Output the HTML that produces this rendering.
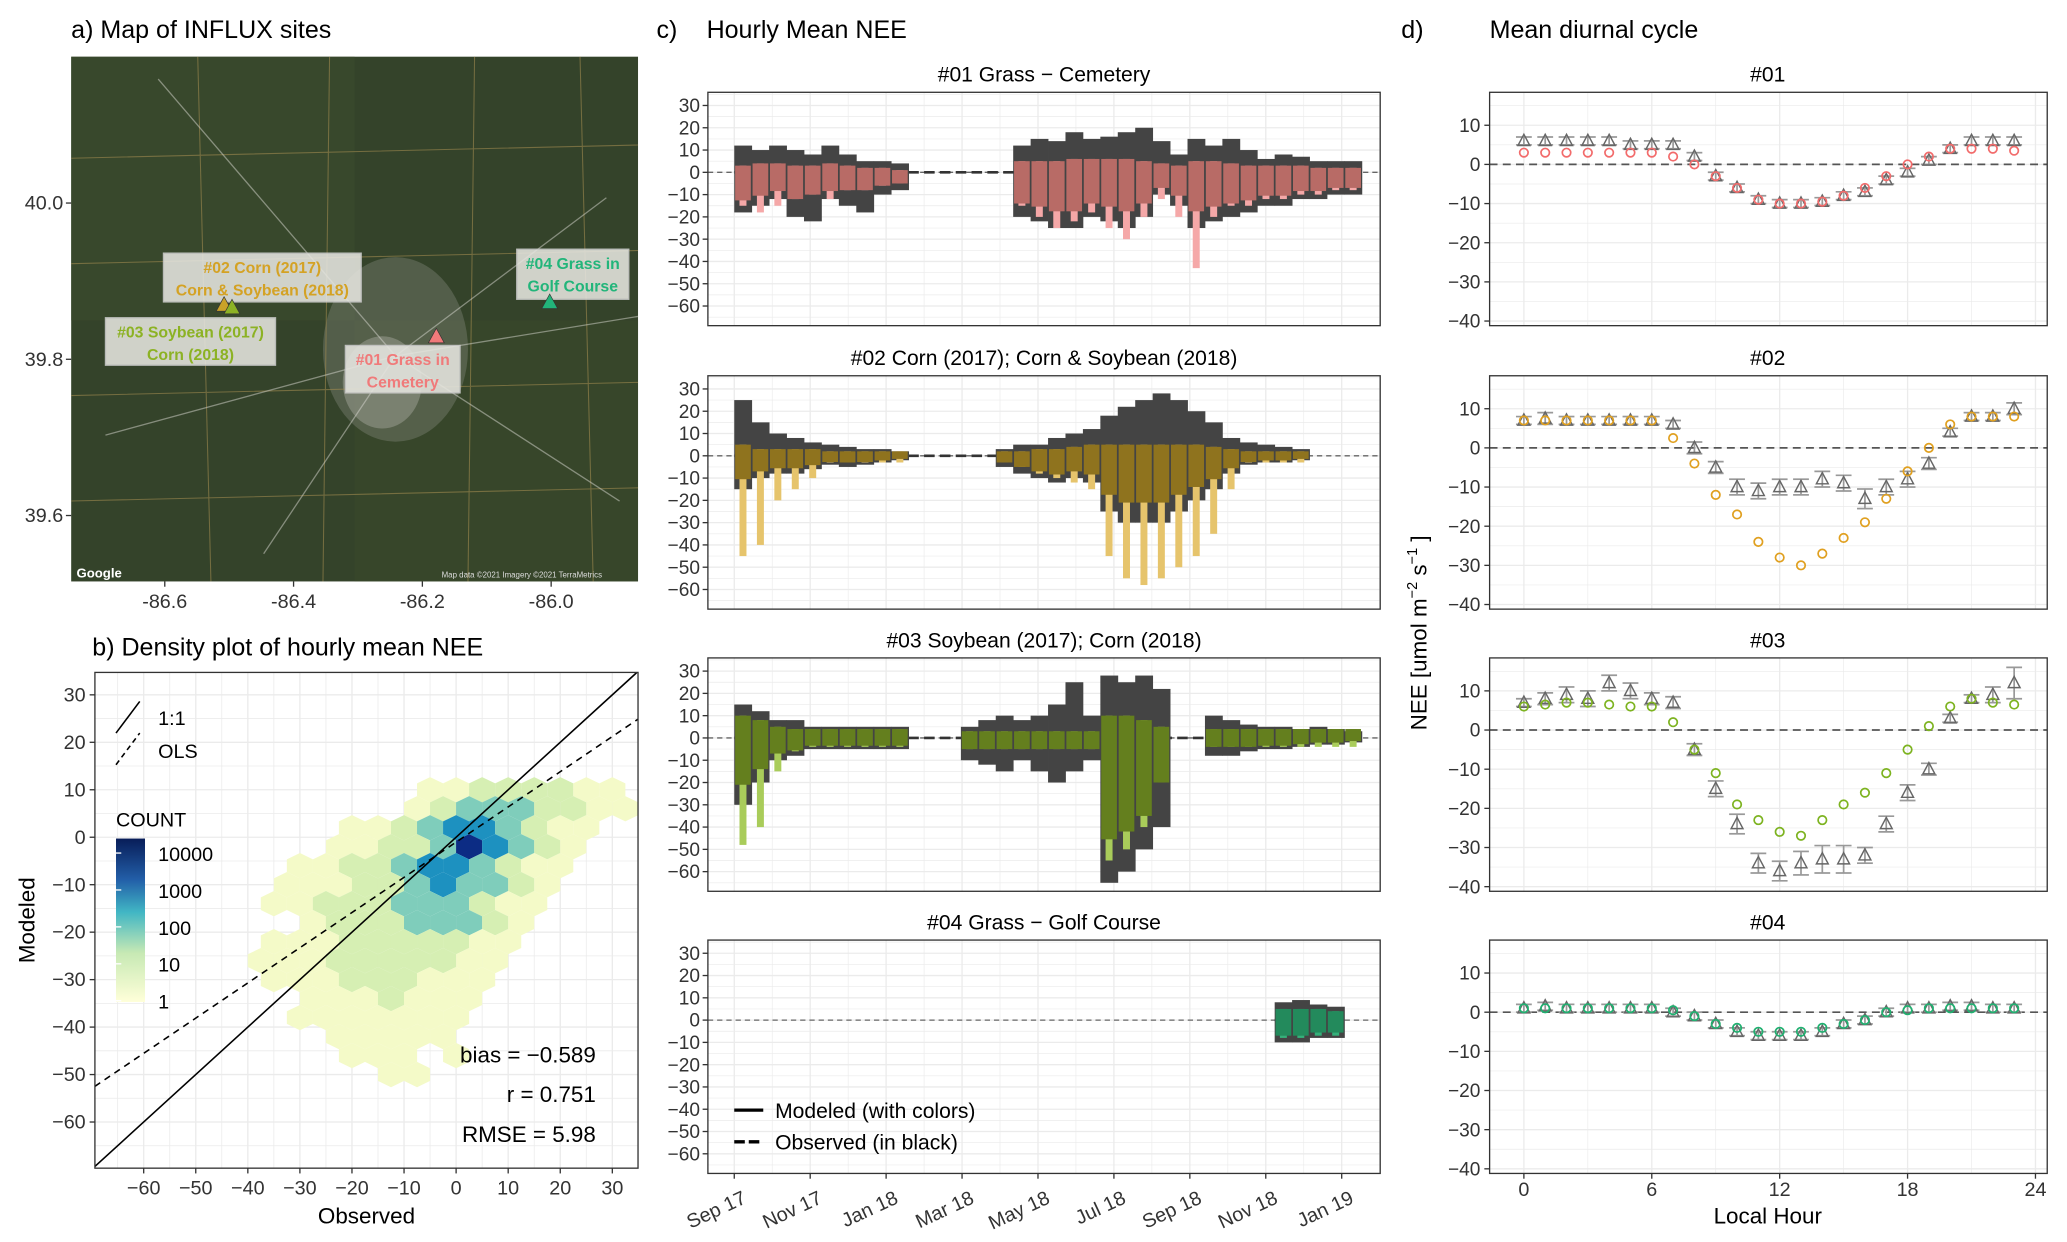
<!DOCTYPE html>
<html><head><meta charset="utf-8"><style>
html,body{margin:0;padding:0;background:#fff}
svg{display:block;font-family:"Liberation Sans",Arial,sans-serif}
</style></head><body>
<svg id="fig" width="2067" height="1242" viewBox="0 0 1568 942" preserveAspectRatio="none" xmlns="http://www.w3.org/2000/svg">
<rect width="1568" height="942" fill="#fff"/>
<text x="54" y="29" font-size="19">a) Map of INFLUX sites</text>
<text x="70" y="497" font-size="19">b) Density plot of hourly mean NEE</text>
<text x="498" y="29" font-size="19">c)</text>
<text x="536" y="29" font-size="19">Hourly Mean NEE</text>
<text x="1063" y="29" font-size="19">d)</text>
<text x="1130" y="29" font-size="19">Mean diurnal cycle</text>
<g id="map">
<rect x="54" y="43" width="430" height="398" fill="#34432a"/>
<rect x="54" y="43" width="215" height="200" fill="#3c4c2e" opacity="0.6"/>
<rect x="269" y="243" width="215" height="198" fill="#3a4a2c" opacity="0.6"/>
<ellipse cx="300" cy="265" rx="55" ry="70" fill="#7a8070" opacity="0.45"/>
<ellipse cx="290" cy="290" rx="30" ry="35" fill="#a8aaa0" opacity="0.45"/>
<path d="M54 120 L484 110 M54 300 L484 290 M150 43 L160 441 M250 43 L245 441 M360 43 L355 441 M440 43 L450 441 M54 200 L484 190 M54 380 L484 370" stroke="#a08a50" stroke-width="0.8" opacity="0.6" fill="none"/>
<path d="M120 60 L300 270 L460 150 M300 270 L200 420 M300 270 L470 380 M80 330 L300 270 L484 240" stroke="#d8d8d0" stroke-width="1" opacity="0.5" fill="none"/>
<text x="58" y="438" font-size="10" fill="#fff" font-weight="bold">Google</text>
<text x="335" y="438" font-size="6" fill="#ddd">Map data ©2021 Imagery ©2021 TerraMetrics</text>
</g>
<g id="maplabels"></g>
<g id="root"></g>
</svg>
<script>
const NS='http://www.w3.org/2000/svg';
const root=document.getElementById('root');
function el(tag,attrs,parent,text){const e=document.createElementNS(NS,tag);for(const k in attrs)e.setAttribute(k,attrs[k]);if(text!==undefined)e.textContent=text;(parent||root).appendChild(e);return e;}

/* ---------- Panel a: map ---------- */
const mapLonTicks=[-86.6,-86.4,-86.2,-86.0];
const mapLatTicks=[40.0,39.8,39.6];
function lonX(v){return 125+(v+86.6)/0.2*97.7;}
function latY(v){return 154+(40.0-v)/0.2*118.5;}
mapLonTicks.forEach(v=>{
  const t=el('text',{x:lonX(v),y:461,'font-size':15,'text-anchor':'middle',fill:'#333'},root,v.toFixed(1));
  
  
  el('line',{x1:lonX(v),x2:lonX(v),y1:441,y2:445,stroke:'#333'});
});
mapLatTicks.forEach(v=>{
  const t=el('text',{x:48,y:latY(v)+5,'font-size':15,'text-anchor':'end',fill:'#333'},root,v.toFixed(1));
  
  
  el('line',{x1:50,x2:54,y1:latY(v),y2:latY(v),stroke:'#333'});
});
const ml=document.getElementById('maplabels');
const siteLabels=[
 {x:124,y:192,w:150,h:37,c:'#d4a224',t:['#02 Corn (2017)','Corn & Soybean (2018)'],n:'site-02-label'},
 {x:80,y:241,w:129,h:36,c:'#8cb224',t:['#03 Soybean (2017)','Corn (2018)'],n:'site-03-label'},
 {x:262,y:262,w:87,h:36,c:'#f07a7a',t:['#01 Grass in','Cemetery'],n:'site-01-label'},
 {x:392,y:189,w:85,h:38,c:'#22b57a',t:['#04 Grass in','Golf Course'],n:'site-04-label'}];
siteLabels.forEach(s=>{
  const g=el('g',{},ml);
  
  
  el('rect',{x:s.x,y:s.y,width:s.w,height:s.h,fill:'#e6e6e0',opacity:0.88,stroke:'#ccc'},g);
  el('text',{x:s.x+s.w/2,y:s.y+15,'font-size':12,'font-weight':'bold','text-anchor':'middle',fill:s.c},g,s.t[0]);
  el('text',{x:s.x+s.w/2,y:s.y+32,'font-size':12,'font-weight':'bold','text-anchor':'middle',fill:s.c},g,s.t[1]);
});
[[170,232,'#c9a228'],[176,234,'#8cb224'],[331,256,'#f07a7a'],[417,230,'#22b57a']].forEach(p=>{
  const m=el('polygon',{points:`${p[0]},${p[1]-7} ${p[0]-6},${p[1]+4} ${p[0]+6},${p[1]+4}`,fill:p[2],stroke:'#333','stroke-width':0.5},ml);
  
  
});

/* ---------- Panel b: hexbin density ---------- */
const hexCols=[-40,-35,-30,-25,-20,-15,-10,-5,0,5,10,15,20,25,30];
const hexRows=[10,6,2,-2,-6,-10,-14,-18,-22,-26,-30,-34,-38,-42,-46,-50];
const hexLevels=[
[0,0,0,0,0,0,0,1,1,2,2,2,2,1,1],
[0,0,0,0,0,0,1,2,3,3,3,2,2,1,1],
[0,0,0,0,1,1,2,3,4,4,3,2,1,1,0],
[0,0,0,1,1,2,2,3,5,4,3,2,1,0,0],
[0,0,1,1,2,2,3,4,4,3,2,1,1,0,0],
[0,1,1,1,2,2,3,4,3,3,2,1,0,0,0],
[0,1,1,2,2,2,3,3,3,2,1,1,0,0,0],
[0,0,1,2,2,2,3,3,3,2,1,0,0,0,0],
[0,1,1,1,2,2,2,2,2,1,1,0,0,0,0],
[1,1,1,2,2,2,2,2,1,1,0,0,0,0,0],
[0,1,1,1,2,2,2,1,1,1,0,0,0,0,0],
[0,0,1,1,1,2,1,1,1,0,0,0,0,0,0],
[0,0,1,1,1,1,1,1,1,0,0,0,0,0,0],
[0,0,0,1,1,1,1,1,0,0,0,0,0,0,0],
[0,0,0,0,1,1,1,0,1,0,0,0,0,0,0],
[0,0,0,0,0,1,1,0,0,0,0,0,0,0,0]];
const hexColors=['none','#f4fac8','#d6efb3','#7fcdbb','#1d91c0','#0c2c84'];
const bTicks=[-60,-50,-40,-30,-20,-10,0,10,20,30];
const countLabels=['10000','1000','100','10','1'];
const statsText=['bias = \u22120.589','r = 0.751','RMSE = 5.98'];
function bx(v){return 346+v*3.95;}
function by(v){return 635-v*3.6;}
const B={x0:72,x1:484,y0:510,y1:886};
const cp=el('clipPath',{id:'clipB'});
el('rect',{x:B.x0,y:B.y0,width:B.x1-B.x0,height:B.y1-B.y0},cp);
const gb=el('g',{'clip-path':'url(#clipB)'});


for(let v=-65;v<=35;v+=5){
  const major=v%10===0;
  el('line',{x1:bx(v),x2:bx(v),y1:B.y0,y2:B.y1,stroke:'#ebebeb','stroke-width':major?1:0.6},gb);
  el('line',{x1:B.x0,x2:B.x1,y1:by(v),y2:by(v),stroke:'#ebebeb','stroke-width':major?1:0.6},gb);
}
hexRows.forEach((yv,ri)=>{
  hexCols.forEach((xv,ci)=>{
    const lv=hexLevels[ri][ci];
    if(!lv)return;
    const cx=bx(xv+(ri%2?2.5:0)),cy=by(yv),hw=9.9,r=9.6;
    const h=el('polygon',{points:`${cx},${cy-r} ${cx+hw},${cy-r/2} ${cx+hw},${cy+r/2} ${cx},${cy+r} ${cx-hw},${cy+r/2} ${cx-hw},${cy-r/2}`,fill:hexColors[lv]},gb);
    
    
  });
});
const oneLine=el('line',{x1:bx(-70),y1:by(-70),x2:bx(36),y2:by(36),stroke:'#000','stroke-width':1.2},gb);


const olsLine=el('line',{x1:bx(-69.4),y1:by(-52.5),x2:bx(35.5),y2:by(25.3),stroke:'#000','stroke-width':1.2,'stroke-dasharray':'5,4'},gb);


el('rect',{x:B.x0,y:B.y0,width:B.x1-B.x0,height:B.y1-B.y0,fill:'none',stroke:'#333','stroke-width':1});
bTicks.forEach(v=>{
  el('line',{x1:bx(v),x2:bx(v),y1:B.y1,y2:B.y1+4,stroke:'#333'});
  const t=el('text',{x:bx(v),y:B.y1+20,'font-size':15,'text-anchor':'middle',fill:'#333'},root,v<0?'\u2212'+(-v):String(v));
  
  
  el('line',{x1:B.x0-4,x2:B.x0,y1:by(v),y2:by(v),stroke:'#333'});
  const u=el('text',{x:B.x0-7,y:by(v)+5,'font-size':15,'text-anchor':'end',fill:'#333'},root,v<0?'\u2212'+(-v):String(v));
  
  
});
const xt=el('text',{x:278,y:928,'font-size':17,'text-anchor':'middle'},root,'Observed');


const yt=el('text',{x:26,y:698,'font-size':17,'text-anchor':'middle',transform:'rotate(-90 26 698)'},root,'Modeled');


const lg=el('g',{});


el('line',{x1:88,y1:556,x2:106,y2:532,stroke:'#000','stroke-width':1.2},lg);
el('text',{x:120,y:550,'font-size':15},lg,'1:1');
el('line',{x1:88,y1:580,x2:106,y2:556,stroke:'#000','stroke-width':1.2,'stroke-dasharray':'4,3'},lg);
el('text',{x:120,y:575,'font-size':15},lg,'OLS');
el('text',{x:88,y:627,'font-size':15},lg,'COUNT');
const grad=el('linearGradient',{id:'cbar',x1:0,y1:0,x2:0,y2:1});
[['0','#081d58'],['0.25','#225ea8'],['0.45','#41b6c4'],['0.7','#c7e9b4'],['1','#ffffd9']].forEach(s=>el('stop',{offset:s[0],'stop-color':s[1]},grad));
el('rect',{x:88,y:636,width:22,height:124,fill:'url(#cbar)'},lg);
countLabels.forEach((c,i)=>{
  el('text',{x:120,y:653+i*28,'font-size':15},lg,c);
  el('line',{x1:88,x2:92,y1:647+i*28,y2:647+i*28,stroke:'#fff'},lg);
});
statsText.forEach((s,i)=>{
  const t=el('text',{x:452,y:806+i*30,'font-size':17,'text-anchor':'end'},root,s);
  
  
});

/* ---------- Panel c: time series ---------- */
const monthLabels=['Sep 17','Nov 17','Jan 18','Mar 18','May 18','Jul 18','Sep 18','Nov 18','Jan 19'];
const tsTicks=[30,20,10,0,-10,-20,-30,-40,-50,-60];
const tsTitles=['#01 Grass \u2212 Cemetery','#02 Corn (2017); Corn & Soybean (2018)','#03 Soybean (2017); Corn (2018)','#04 Grass \u2212 Golf Course'];
const N=null;
const s1ObsMax=[12,10,12,10,8,12,8,5,5,4,N,N,N,N,N,N,12,15,14,18,15,16,18,20,14,8,15,12,15,10,6,8,7,5,5,5];
const s1ObsMin=[-18,-15,-12,-20,-22,-12,-15,-18,-10,-8,N,N,N,N,N,N,-20,-22,-25,-25,-20,-22,-25,-20,-10,-15,-25,-22,-20,-18,-15,-15,-12,-12,-10,-10];
const s1ModMax=[3,4,4,3,3,4,3,2,2,1,N,N,N,N,N,N,5,5,5,6,6,6,6,5,4,3,5,5,4,3,3,3,3,2,2,2];
const s1ModMin=[-15,-18,-15,-12,-10,-12,-8,-8,-6,-5,N,N,N,N,N,N,-15,-20,-25,-22,-18,-25,-30,-20,-12,-20,-43,-20,-15,-15,-12,-12,-10,-10,-8,-8];
const s2ObsMax=[25,15,10,8,6,5,4,3,3,2,N,N,N,N,N,3,5,5,8,10,12,18,22,25,28,25,20,15,8,6,5,4,3,N,N,N];
const s2ObsMin=[-15,-10,-8,-8,-6,-4,-5,-4,-3,-2,N,N,N,N,N,-5,-8,-10,-12,-10,-12,-25,-30,-30,-30,-25,-20,-15,-8,-4,-3,-3,-2,N,N,N];
const s2ModMax=[5,3,3,3,3,2,2,2,2,2,N,N,N,N,N,2,2,3,3,4,5,5,5,5,5,5,5,4,3,2,2,2,2,N,N,N];
const s2ModMin=[-45,-40,-20,-15,-10,-3,-3,-3,-3,-3,N,N,N,N,N,-3,-5,-8,-10,-12,-15,-45,-55,-58,-55,-50,-45,-35,-15,-3,-3,-3,-3,N,N,N];
const s3ObsMax=[15,12,8,8,5,5,5,5,5,5,N,N,N,5,8,10,8,10,15,25,10,28,25,28,22,N,N,10,8,6,5,5,4,5,4,3];
const s3ObsMin=[-30,-20,-10,-8,-5,-5,-5,-5,-5,-5,N,N,N,-10,-12,-15,-10,-15,-20,-15,-10,-65,-60,-50,-40,N,N,-8,-8,-6,-5,-5,-4,-3,-3,-2];
const s3ModMax=[10,8,5,4,4,4,4,4,4,4,N,N,N,3,3,3,3,3,3,3,3,10,10,8,5,N,N,4,4,4,4,4,4,4,4,4];
const s3ModMin=[-48,-40,-15,-6,-4,-4,-4,-4,-4,-4,N,N,N,-5,-5,-5,-5,-5,-5,-5,-5,-55,-50,-40,-20,N,N,-4,-4,-4,-4,-4,-4,-4,-4,-4];
const s4ObsMax=[N,N,N,N,N,N,N,N,N,N,N,N,N,N,N,N,N,N,N,N,N,N,N,N,N,N,N,N,N,N,N,8,9,7,6,N];
const s4ObsMin=[N,N,N,N,N,N,N,N,N,N,N,N,N,N,N,N,N,N,N,N,N,N,N,N,N,N,N,N,N,N,N,-10,-10,-8,-8,N];
const s4ModMax=[N,N,N,N,N,N,N,N,N,N,N,N,N,N,N,N,N,N,N,N,N,N,N,N,N,N,N,N,N,N,N,5,5,5,4,N];
const s4ModMin=[N,N,N,N,N,N,N,N,N,N,N,N,N,N,N,N,N,N,N,N,N,N,N,N,N,N,N,N,N,N,N,-8,-8,-7,-7,N];
const sites=[
 {obsMax:s1ObsMax,obsMin:s1ObsMin,modMax:s1ModMax,modMin:s1ModMin,dark:'#b86b66',light:'#f5a8a8'},
 {obsMax:s2ObsMax,obsMin:s2ObsMin,modMax:s2ModMax,modMin:s2ModMin,dark:'#8f731e',light:'#e6c46c'},
 {obsMax:s3ObsMax,obsMin:s3ObsMin,modMax:s3ModMax,modMin:s3ModMin,dark:'#647f1e',light:'#a9cc5a'},
 {obsMax:s4ObsMax,obsMin:s4ObsMin,modMax:s4ModMax,modMin:s4ModMin,dark:'#238a5c',light:'#35b07a'}];
const C={x0:537,x1:1047,tops:[70,285,499,713],h:177};
const binDays=14,dayPx=0.9446;
function tx(day){return 557+day*dayPx;}
sites.forEach((s,k)=>{
  const top=C.tops[k];
  function ty(v){return top+10+(30-v)*1.69;}
  const g=el('g',{});
  
  
  el('rect',{x:C.x0,y:top,width:C.x1-C.x0,height:C.h,fill:'#fff'},g);
  for(let v=-65;v<=35;v+=5){const yy=ty(v);if(yy<top||yy>top+C.h)continue;el('line',{x1:C.x0,x2:C.x1,y1:yy,y2:yy,stroke:'#ebebeb','stroke-width':v%10===0?1:0.5},g);}
  for(let m=-1;m<=17;m++){const xx=557+m*28.8;if(xx<C.x0||xx>C.x1)continue;el('line',{x1:xx,x2:xx,y1:top,y2:top+C.h,stroke:'#ebebeb','stroke-width':m%2===0?1:0.5},g);}
  el('line',{x1:C.x0,x2:C.x1,y1:ty(0),y2:ty(0),stroke:'#666','stroke-dasharray':'4,3'},g);
  const n=s.obsMax.length;let first=-1,last=-1;
  for(let i=0;i<n;i++){if(s.obsMax[i]!==null){if(first<0)first=i;last=i;}}
  const gapLine=el('line',{x1:tx(first*binDays),x2:tx((last+1)*binDays),y1:ty(0),y2:ty(0),stroke:'#333','stroke-width':2,'stroke-dasharray':'8,4'},g);
  
  
  const w=binDays*dayPx;
  for(let i=0;i<n;i++){
    if(s.obsMax[i]===null)continue;
    const x=tx(i*binDays);
    const o=el('rect',{x:x,y:ty(s.obsMax[i]),width:w+0.3,height:ty(s.obsMin[i])-ty(s.obsMax[i]),fill:'#444'},g);
    
    
  }
  for(let i=0;i<n;i++){
    if(s.obsMax[i]===null)continue;
    const x=tx(i*binDays);
    const ml2=el('rect',{x:x+w*0.3,y:ty(s.modMax[i]),width:w*0.4,height:ty(s.modMin[i])-ty(s.modMax[i]),fill:s.light},g);
    
    
    const lo=Math.max(s.modMin[i],s.obsMin[i]*0.7);
    const md=el('rect',{x:x+w*0.05,y:ty(s.modMax[i]),width:w*0.9,height:Math.max(0,ty(lo)-ty(s.modMax[i])),fill:s.dark},g);
    
    
  }
  el('rect',{x:C.x0,y:top,width:C.x1-C.x0,height:C.h,fill:'none',stroke:'#333'},g);
  tsTicks.forEach(v=>{
    el('line',{x1:C.x0-4,x2:C.x0,y1:ty(v),y2:ty(v),stroke:'#333'},g);
    el('text',{x:C.x0-6,y:ty(v)+5,'font-size':14.5,'text-anchor':'end',fill:'#333'},g,v<0?'\u2212'+(-v):String(v));
  });
  const tt=el('text',{x:792,y:top-8,'font-size':16,'text-anchor':'middle'},root,tsTitles[k]);
  
  
});
monthLabels.forEach((m,i)=>{
  const xx=557+i*57.6;
  el('line',{x1:xx,x2:xx,y1:890,y2:894,stroke:'#333'});
  const t=el('text',{x:xx+10,y:912,'font-size':15,'text-anchor':'end',fill:'#333',transform:`rotate(-25 ${xx+10} 912)`},root,m);
  
  
});
const tl=el('g',{});


el('line',{x1:557,x2:579,y1:842,y2:842,stroke:'#000','stroke-width':2.5},tl);
el('text',{x:588,y:848,'font-size':16},tl,'Modeled (with colors)');
el('line',{x1:557,x2:579,y1:866,y2:866,stroke:'#000','stroke-width':2.5,'stroke-dasharray':'8,3'},tl);
el('text',{x:588,y:872,'font-size':16},tl,'Observed (in black)');

/* ---------- Panel d: diurnal ---------- */
const hours=[0,1,2,3,4,5,6,7,8,9,10,11,12,13,14,15,16,17,18,19,20,21,22,23];
const hourTicks=[0,6,12,18,24];
const dTicks=[10,0,-10,-20,-30,-40];
const dTitles=['#01','#02','#03','#04'];
const d1Obs=[6,6,6,6,6,5,5,5,2,-3,-6,-9,-10,-10,-9.5,-8,-7,-4,-2,1,4,6,6,6];
const d1Mod=[3,3,3,3,3,3,3,2,0,-3,-6,-9,-10,-10,-9.5,-8,-6,-3,0,2,4,4,4,3.5];
const d1Err=[1,1,1,1,1,1,1,1,1,1,1,1,1,1,1,1,1,1,1,1,1,1,1,1];
const d2Obs=[7,7.5,7,7,7,7,7,6,0,-5,-10,-11,-10,-10,-8,-9,-13,-10,-8,-4,4,8,8,10];
const d2Mod=[7,7,7,7,7,7,7,2.5,-4,-12,-17,-24,-28,-30,-27,-23,-19,-13,-6,0,6,8,8,8];
const d2Err=[1,1.5,1,1,1,1,1,1,1.5,1.5,2,2,2,2,2,2,2.5,2,2,1.5,1,1,1,1.5];
const d3Obs=[7,8,9,8,12,10,8,7,-5,-15,-24,-34,-36,-34,-33,-33,-32,-24,-16,-10,3,8,9,12];
const d3Mod=[6,6.5,7,7,6.5,6,6,2,-5,-11,-19,-23,-26,-27,-23,-19,-16,-11,-5,1,6,8,7,6.5];
const d3Err=[1,1.5,2,2,2,2,1.5,1.5,1.5,2,2.5,2.5,2.5,3,3.5,3.5,2,2,2,1.5,1,1,2,4];
const d4Obs=[1,1.5,1,1,1,1,1,0,-1,-3,-5,-6,-6,-6,-5,-3,-2,0,1,1,1.5,1.5,1,1];
const d4Mod=[1,1,1,1,1,1,1,0.5,-1,-3,-4,-5,-5,-5,-4,-3,-2,0,0.5,1,1,1,1,1];
const d4Err=[1,1,1,1,1,1,1,1,1,1,1,1,1,1,1,1,1,1,1,1,1,1,1,1];
const dSites=[[d1Obs,d1Mod,d1Err,'#f26b6b'],[d2Obs,d2Mod,d2Err,'#e0a020'],[d3Obs,d3Mod,d3Err,'#7db320'],[d4Obs,d4Mod,d4Err,'#20b070']];
const D={x0:1130,x1:1553};
function hx(h){return 1156+h*16.17;}
dSites.forEach((s,k)=>{
  const top=C.tops[k];
  function dy(v){return top+25+(10-v)*2.97;}
  const g=el('g',{});
  
  
  for(let v=-45;v<=15;v+=5){const yy=dy(v);if(yy<top||yy>top+C.h)continue;el('line',{x1:D.x0,x2:D.x1,y1:yy,y2:yy,stroke:'#ebebeb','stroke-width':v%10===0?1:0.5},g);}
  for(let h=-3;h<=27;h+=3){const xx=hx(h);if(xx<D.x0||xx>D.x1)continue;el('line',{x1:xx,x2:xx,y1:top,y2:top+C.h,stroke:'#ebebeb','stroke-width':h%6===0?1:0.5},g);}
  el('line',{x1:D.x0,x2:D.x1,y1:dy(0),y2:dy(0),stroke:'#555','stroke-width':1.3,'stroke-dasharray':'6,4'},g);
  hours.forEach((h,i)=>{
    const x=hx(h),o=s[0][i],e=s[2][i];
    el('line',{x1:x,x2:x,y1:dy(o+e),y2:dy(o-e),stroke:'#999','stroke-width':1.3},g);
    el('line',{x1:x-6,x2:x+6,y1:dy(o+e),y2:dy(o+e),stroke:'#999','stroke-width':1.3},g);
    el('line',{x1:x-6,x2:x+6,y1:dy(o-e),y2:dy(o-e),stroke:'#999','stroke-width':1.3},g);
    const y=dy(o);
    const tri=el('polygon',{points:`${x},${y-5} ${x-4.5},${y+3.5} ${x+4.5},${y+3.5}`,fill:'none',stroke:'#666','stroke-width':1.1},g);
    
    
    const c=el('circle',{cx:x,cy:dy(s[1][i]),r:3.2,fill:'none',stroke:s[3],'stroke-width':1.3},g);
    
    
  });
  el('rect',{x:D.x0,y:top,width:D.x1-D.x0,height:C.h,fill:'none',stroke:'#333'},g);
  dTicks.forEach(v=>{
    el('line',{x1:D.x0-4,x2:D.x0,y1:dy(v),y2:dy(v),stroke:'#333'},g);
    el('text',{x:D.x0-7,y:dy(v)+5,'font-size':14.5,'text-anchor':'end',fill:'#333'},g,v<0?'\u2212'+(-v):String(v));
  });
  const tt=el('text',{x:1341,y:top-8,'font-size':16,'text-anchor':'middle'},root,dTitles[k]);
  
  
});
hourTicks.forEach(h=>{
  el('line',{x1:hx(h),x2:hx(h),y1:890,y2:894,stroke:'#333'});
  const t=el('text',{x:hx(h),y:907,'font-size':15,'text-anchor':'middle',fill:'#333'},root,String(h));
  
  
});
const lh=el('text',{x:1341,y:928,'font-size':17,'text-anchor':'middle'},root,'Local Hour');


const ny=el('text',{x:1082,y:480,'font-size':17,'text-anchor':'middle',transform:'rotate(-90 1082 480)'},root);


ny.innerHTML='NEE [umol  m<tspan dy="-7" font-size="11">\u22122</tspan><tspan dy="7"> s</tspan><tspan dy="-7" font-size="11">\u22121</tspan><tspan dy="7"> ]</tspan>';
</script>
</body></html>
